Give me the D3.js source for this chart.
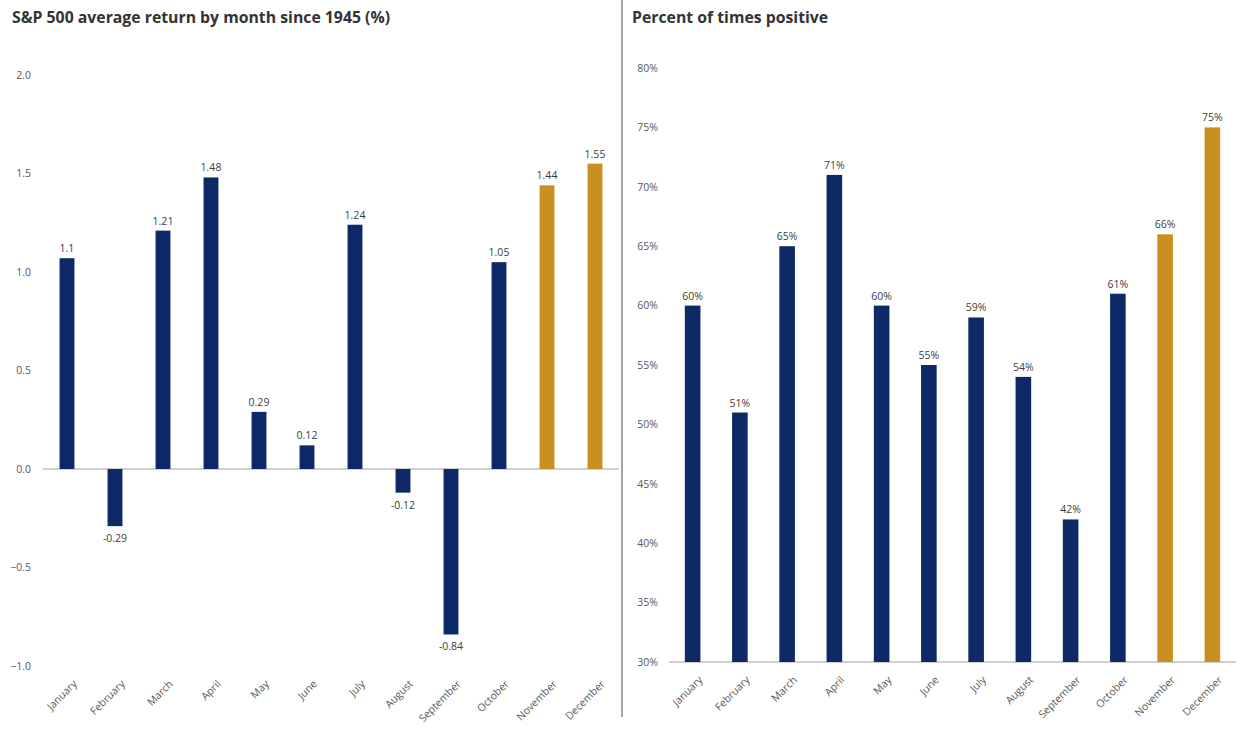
<!DOCTYPE html>
<html>
<head>
<meta charset="utf-8">
<script src="https://cdn.jsdelivr.net/npm/d3@7"></script>
<style>
  body { margin: 0; background: #fff; }
  text { font-family: "Open Sans", sans-serif; }
</style>
</head>
<body>
<script>
// General constants
const WIDTH = 1239;
const HEIGHT = 733;
const NAVY = "#0d2a66";
const GOLD = "#c99021";

// Chart data
const months = ["January", "February", "March", "April", "May", "June",
                "July", "August", "September", "October", "November", "December"];
const avgReturn = [1.07, -0.29, 1.21, 1.48, 0.29, 0.12, 1.24, -0.12, -0.84, 1.05, 1.44, 1.55];
const avgReturnLabels = ["1.1", "-0.29", "1.21", "1.48", "0.29", "0.12", "1.24", "-0.12", "-0.84", "1.05", "1.44", "1.55"];
const pctPositive = [60, 51, 65, 71, 60, 55, 59, 54, 42, 61, 66, 75];
const returnTicks = [-1.0, -0.5, 0.0, 0.5, 1.0, 1.5, 2.0];
const pctTicks = [30, 35, 40, 45, 50, 55, 60, 65, 70, 75, 80];
const highlighted = ["November", "December"];

const svg = d3.select("body")
              .append("svg")
              .attr("width", WIDTH)
              .attr("height", HEIGHT);

/** Divider between the two panels */
svg.append("line")
   .attr("x1", 622).attr("x2", 622)
   .attr("y1", 0).attr("y2", 717)
   .attr("stroke", "#a6a6a6")
   .attr("stroke-width", 2);

function colorFor(m) {
    return highlighted.includes(m) ? GOLD : NAVY;
}

/**
 * Draws one bar panel. opts holds the scales and the label formats.
 */
function drawPanel(opts) {
    const g = svg.append("g");

    g.append("text")
     .attr("x", opts.titleX)
     .attr("y", 23)
     .attr("font-size", 15.8)
     .attr("font-weight", 700)
     .attr("fill", "#333")
     .text(opts.title);

    // y tick labels only, no axis line
    const yAxis = d3.axisLeft(opts.y)
                    .tickValues(opts.ticks)
                    .tickFormat(opts.tickFormat)
                    .tickSize(0)
                    .tickPadding(0);
    const ya = g.append("g")
                .attr("transform", `translate(${opts.tickX},0)`)
                .call(yAxis);
    ya.select(".domain").remove();
    ya.selectAll("text")
      .attr("font-size", 10.5)
      .attr("fill", "#595959")
      .style("font-family", "Open Sans, sans-serif");

    // baseline
    const [x0, x1] = opts.x.range();
    g.append("line")
     .attr("x1", x0).attr("x2", x1)
     .attr("y1", opts.y(opts.base)).attr("y2", opts.y(opts.base))
     .attr("stroke", "#d0d0d0")
     .attr("stroke-width", 2);

    // bars
    g.selectAll("rect.bar")
     .data(opts.values)
     .enter()
     .append("rect")
     .attr("class", "bar")
     .attr("x", (d, i) => opts.x(months[i]))
     .attr("width", opts.x.bandwidth())
     .attr("y", d => opts.y(Math.max(d, opts.base)))
     .attr("height", d => Math.abs(opts.y(d) - opts.y(opts.base)))
     .attr("fill", (d, i) => colorFor(months[i]));

    // value labels
    g.selectAll("text.val")
     .data(opts.values)
     .enter()
     .append("text")
     .attr("class", "val")
     .attr("x", (d, i) => opts.x(months[i]) + opts.x.bandwidth() / 2)
     .attr("y", d => d >= opts.base ? opts.y(d) - 6 : opts.y(d) + 16)
     .attr("text-anchor", "middle")
     .attr("font-size", 10.5)
     .attr("fill", "#404040")
     .text((d, i) => opts.valueLabel(d, i));

    // month labels, rotated
    const xAxis = d3.axisBottom(opts.x).tickSize(0).tickPadding(0);
    const xa = g.append("g")
                .attr("transform", `translate(0,${opts.monthY})`)
                .call(xAxis);
    xa.select(".domain").remove();
    xa.selectAll("text")
      .attr("font-size", 10.5)
      .attr("fill", "#595959")
      .style("font-family", "Open Sans, sans-serif")
      .attr("text-anchor", "end")
      .attr("dy", "0.35em")
      .attr("transform", "translate(8,6) rotate(-45)");
}

/** Left panel: average return */
const xLeft = d3.scaleBand().domain(months).range([43, 619]).paddingInner(0.69).paddingOuter(0.345);
const yLeft = d3.scaleLinear().domain([-1, 2]).range([666, 75]);

drawPanel({
    title: "S&P 500 average return by month since 1945 (%)",
    titleX: 12,
    x: xLeft,
    y: yLeft,
    base: 0,
    values: avgReturn,
    ticks: returnTicks,
    tickFormat: d3.format(".1f"),
    tickX: 31,
    monthY: 676,
    valueLabel: (d, i) => avgReturnLabels[i]
});

/** Right panel: percent of times positive */
const xRight = d3.scaleBand().domain(months).range([669, 1236]).paddingInner(0.67).paddingOuter(0.335);
const yRight = d3.scaleLinear().domain([30, 80]).range([662, 68]);

drawPanel({
    title: "Percent of times positive",
    titleX: 632,
    x: xRight,
    y: yRight,
    base: 30,
    values: pctPositive,
    ticks: pctTicks,
    tickFormat: d => d + "%",
    tickX: 658,
    monthY: 672,
    valueLabel: d => d + "%"
});
</script>
</body>
</html>
